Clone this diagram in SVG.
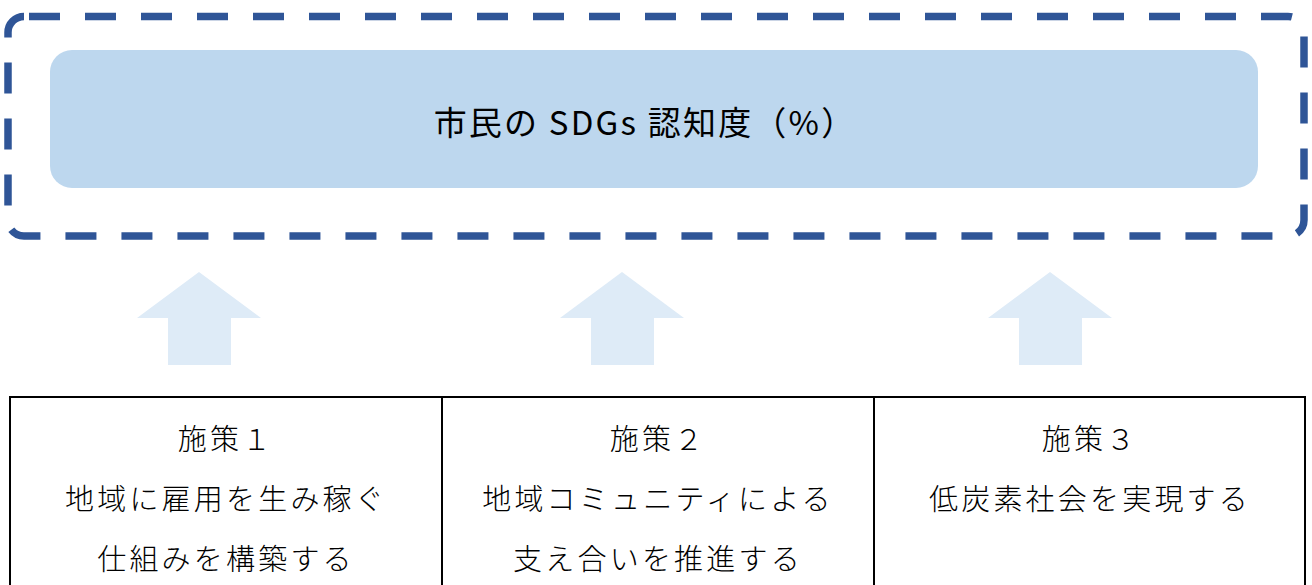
<svg xmlns="http://www.w3.org/2000/svg" width="1312" height="585" viewBox="0 0 1312 585">
<style>
.t{font-family:"Noto Sans CJK JP","Noto Sans",sans-serif;fill:#000;text-anchor:middle}
.cell{font-size:29px;font-weight:300;letter-spacing:3.2px}
.arrow{fill:#DEEBF7}
.grid{fill:none;stroke:#000;stroke-width:2}
</style>
<rect width="1312" height="585" fill="#fff"/>
<g id="goal">
<rect x="8" y="16.5" width="1296" height="219.5" rx="16" fill="none" stroke="#2F5597" stroke-width="7.5" stroke-dasharray="31 25" stroke-dashoffset="-5"/>
<rect x="50" y="50" width="1208" height="138" rx="22" fill="#BDD7EE"/>
<text class="t" x="645" y="135" font-size="33" font-weight="400" letter-spacing="2.2">市民の SDGs 認知度（%）</text>
</g>
<g id="connectors">
<polygon class="arrow" points="199,272 261,318 231,318 231,365 168,365 168,318 137,318"/>
<polygon class="arrow" points="622,272 684,318 654,318 654,365 591,365 591,318 560,318"/>
<polygon class="arrow" points="1050,272 1112,318 1082,318 1082,365 1019,365 1019,318 988,318"/>
</g>
<g id="table">
<rect class="grid" x="10" y="397" width="1295" height="200"/>
<line class="grid" x1="442" y1="397" x2="442" y2="585"/>
<line class="grid" x1="874" y1="397" x2="874" y2="585"/>
</g>
<g id="measure1">
<text class="t cell" x="226" y="450">施策１</text>
<text class="t cell" x="226" y="510">地域に雇用を生み稼ぐ</text>
<text class="t cell" x="226" y="570">仕組みを構築する</text>
</g>
<g id="measure2">
<text class="t cell" x="658" y="450">施策２</text>
<text class="t cell" x="658" y="510">地域コミュニティによる</text>
<text class="t cell" x="658" y="570">支え合いを推進する</text>
</g>
<g id="measure3">
<text class="t cell" x="1090" y="450">施策３</text>
<text class="t cell" x="1090" y="510">低炭素社会を実現する</text>
</g>
</svg>
